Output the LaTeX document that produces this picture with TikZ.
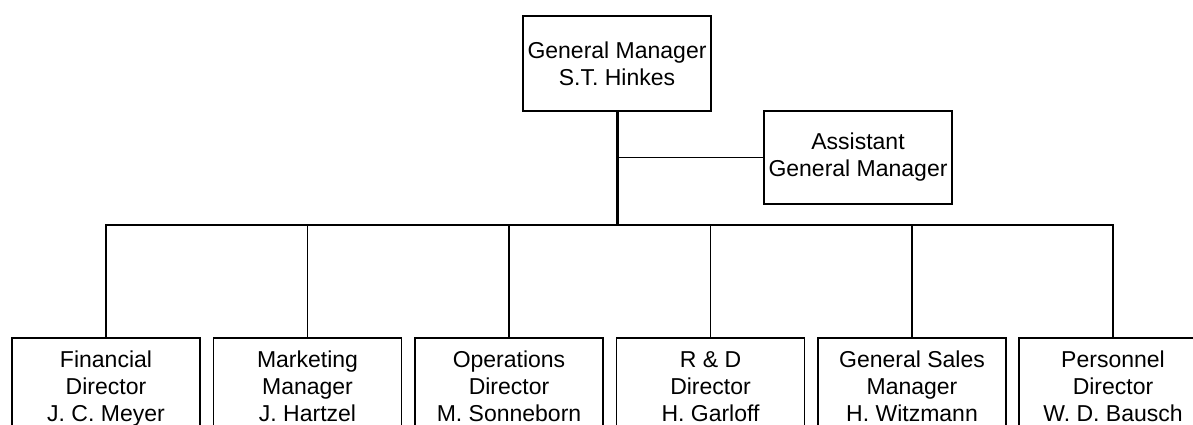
\documentclass[tikz,border=0pt]{standalone}
\usepackage{fontspec}
\setmainfont{Liberation Sans}
\begin{document}
\begin{tikzpicture}[x=1pt,y=-1pt,
  box/.style={draw=black, line width=1.2pt, minimum width=188pt, inner sep=0pt},
  txt/.style={align=center, inner sep=0pt, font=\fontsize{23}{27}\selectfont},
  wire/.style={line width=1.2pt},
  busmid/.style={line width=1.8pt},
  trunk/.style={line width=3pt}]
  \useasboundingbox (0,0) rectangle (1193,425);
  \clip (0,0) rectangle (1193,425);

  % top of the chart
  \node[box, txt, minimum height=95pt] (gm) at (617,63.5)
    {General Manager\\S.T. Hinkes};
  \node[box, txt, minimum height=93pt] (asst) at (858,157.5)
    {Assistant\\General Manager};

  % department boxes (run past the lower edge)
  \foreach \n/\x in {fin/106, mkt/307.5, ops/509, rnd/710.5, gsm/912, pers/1113}{
    \node[box, minimum height=120pt] (\n) at (\x,398) {};
  }
  \coordinate (bus) at (617,225);

  % box captions, last baseline 84pt below the top edge
  \foreach \n/\t in {fin/{Financial\\Director\\J. C. Meyer},
                     mkt/{Marketing\\Manager\\J. Hartzel},
                     ops/{Operations\\Director\\M. Sonneborn},
                     rnd/{R \& D\\Director\\H. Garloff},
                     gsm/{General Sales\\Manager\\H. Witzmann},
                     pers/{Personnel\\Director\\W. D. Bausch}}{
    \node[txt, anchor=base] (\n-t) at ([yshift=-84pt]\n.north) {\t};
  }

  % connectors
  \draw[wire] (fin.north) -- (fin.north |- bus) -- (pers.north |- bus) -- (pers.north);
  \foreach \n in {mkt, ops, rnd, gsm}{
    \draw[wire] (\n.north |- bus) -- (\n.north);
  }
  \draw[busmid] (mkt.north |- bus) -- (gsm.north |- bus);
  \draw[trunk] (gm.south) -- (gm.south |- bus);
  \draw[wire] (gm.south |- asst.west) -- (asst.west);
\end{tikzpicture}
\end{document}
